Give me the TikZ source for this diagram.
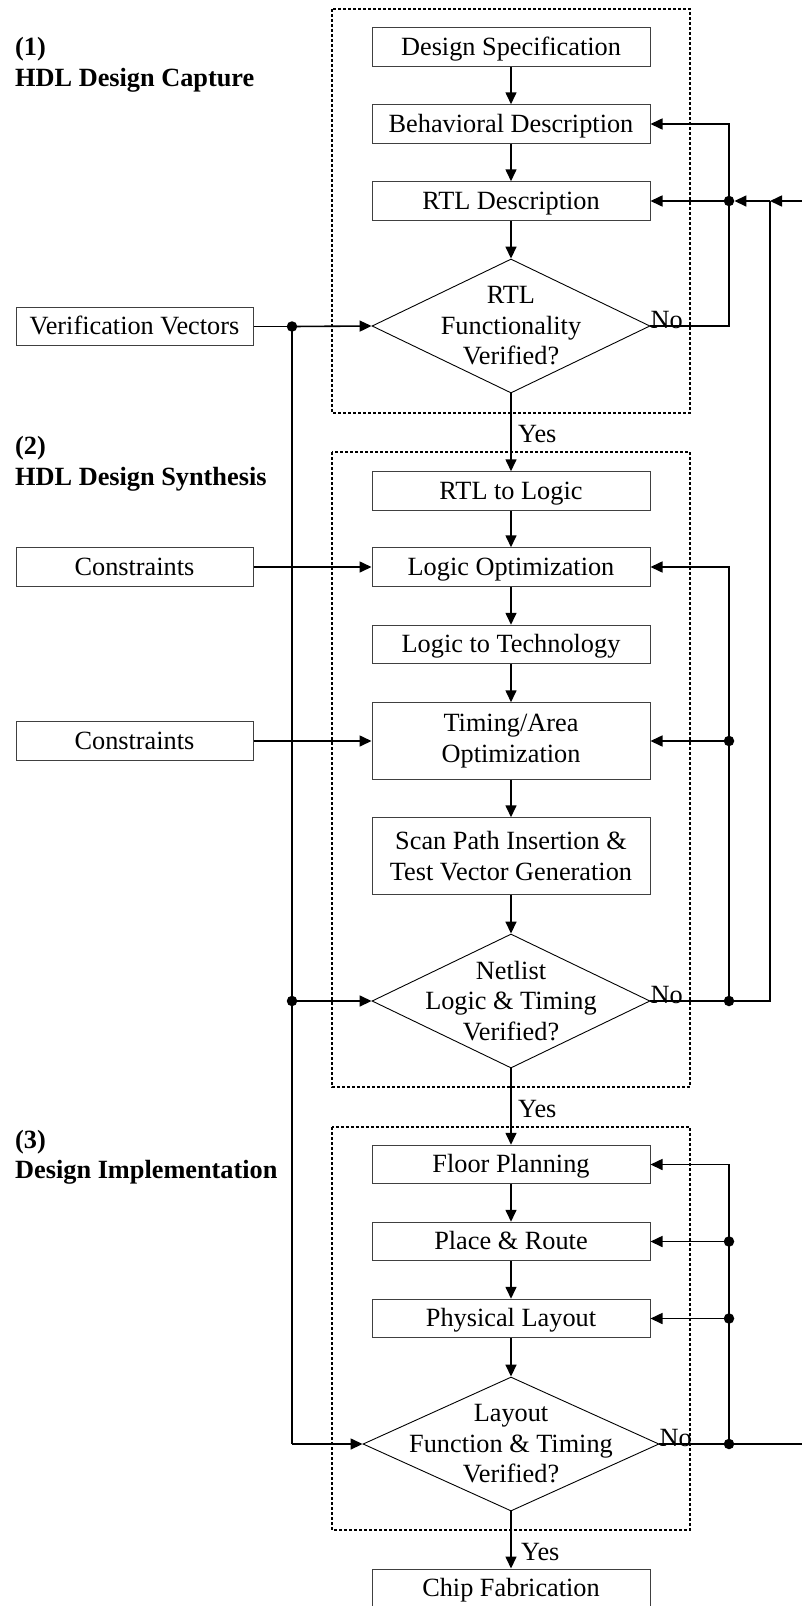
\documentclass[tikz,border=0pt]{standalone}
\usepackage{fontspec}
\setmainfont{Liberation Serif}
\usetikzlibrary{shapes.geometric,arrows.meta}

\begin{document}
\begin{tikzpicture}[
  x=1pt, y=-1pt,
  font=\fontsize{26.3}{30.5}\selectfont,
  stepbox/.style={rectangle, draw=black!75, line width=1pt, minimum width=278pt,
    minimum height=38.5pt, inner sep=0pt, align=center},
  onebox/.style={stepbox, text height=22pt, text depth=6pt},
  tallbox/.style={stepbox, minimum height=76.5pt},
  inbox/.style={onebox, minimum width=237pt},
  decision/.style={diamond, draw, line width=0.9pt, inner sep=0pt,
    minimum width=278pt, minimum height=134pt},
  decisionwide/.style={decision, minimum width=296pt},
  dectext/.style={align=center, inner sep=0pt},
  stage/.style={dash pattern=on 3pt off 2pt, line width=1.1pt},
  conn/.style={line width=1.6pt},
  flow/.style={conn, -{Triangle[length=12pt, width=11pt]}},
  joint/.style={circle, fill=black, inner sep=0pt, minimum size=10.5pt},
  tag/.style={inner sep=0pt, anchor=west},
  notag/.style={inner sep=0pt, anchor=south west},
  phase/.style={align=left, anchor=west, inner sep=0pt, font=\fontsize{26.3}{30.5}\selectfont\bfseries}
]
\useasboundingbox (0,0) rectangle (802,1606);

% stage frames
\draw[stage] (332,9) rectangle (690,413);
\draw[stage] (332,452) rectangle (690,1087);
\draw[stage] (332,1127) rectangle (690,1530);

% stage titles
\node[phase] (p1) at (15,65) {(1)\\HDL Design Capture};
\node[phase] (p2) at (15,464) {(2)\\HDL Design Synthesis};
\node[phase] (p3) at (15,1157.5) {(3)\\Design Implementation};

% main flow
\node[onebox] (spec)  at (511,47)    {Design Specification};
\node[onebox] (behav) at (511,124)   {Behavioral Description};
\node[onebox] (rtl)   at (511,201)   {RTL Description};
\node[decision] (d1)   at (511,326)   {};
\node[dectext] (d1t)   at (d1.center) {RTL\\Functionality\\Verified?};

\node[onebox] (r2l)   at (511,491)   {RTL to Logic};
\node[onebox] (lopt)  at (511,567)   {Logic Optimization};
\node[onebox] (l2t)   at (511,644.5) {Logic to Technology};
\node[tallbox] (tao)   at (511,741)   {Timing/Area\\Optimization};
\node[tallbox] (scan)  at (511,856)   {Scan Path Insertion \&\\Test Vector Generation};
\node[decision] (d2)   at (511,1001)  {};
\node[dectext] (d2t)   at (d2.center) {Netlist\\Logic \& Timing\\Verified?};

\node[onebox] (floor) at (511,1164.5) {Floor Planning};
\node[onebox] (pr)    at (511,1241.5) {Place \& Route};
\node[onebox] (phys)  at (511,1318.5) {Physical Layout};
\node[decisionwide] (d3) at (511,1444) {};
\node[dectext] (d3t)   at (d3.center) {Layout\\Function \& Timing\\Verified?};
\node[onebox] (chip)  at (511,1588.25) {Chip Fabrication};

% inputs on the left
\node[inbox] (vv)   at (134.5,326.5) {Verification Vectors};
\node[inbox] (con1) at (134.5,567)   {Constraints};
\node[inbox] (con2) at (134.5,741)   {Constraints};

% joints
\node[joint] (jv1) at (292,326.5) {};
\node[joint] (jv2) at (292,1001) {};
\coordinate (jv3) at (292,1444);

\node[joint] (ja1) at (729,201) {};
\coordinate (ca1) at (729,326);
\coordinate (ca0) at (729,124);
\coordinate (cb1) at (770,1001);
\coordinate (cb0) at (770,201);
\coordinate (edgeTop) at (802,201);

\node[joint] (jb1) at (729,1001) {};
\node[joint] (jb2) at (729,741) {};
\coordinate (cb2) at (729,567);

\node[joint] (jc1) at (729,1444) {};
\node[joint] (jc2) at (729,1318.5) {};
\node[joint] (jc3) at (729,1241.5) {};
\coordinate (cc4) at (729,1164.5);
\coordinate (edgeBot) at (802,1444);

% forward flow
\draw[flow] (spec) -- (behav);
\draw[flow] (behav) -- (rtl);
\draw[flow] (rtl) -- (d1);
\draw[flow] (d1.south) -- (r2l);
\draw[flow] (r2l) -- (lopt);
\draw[flow] (lopt) -- (l2t);
\draw[flow] (l2t) -- (tao);
\draw[flow] (tao) -- (scan);
\draw[flow] (scan) -- (d2);
\draw[flow] (d2.south) -- (floor);
\draw[flow] (floor) -- (pr);
\draw[flow] (pr) -- (phys);
\draw[flow] (phys) -- (d3);
\draw[flow] (d3.south) -- (chip);

\node[tag] (y1) at (518,434)    {Yes};
\node[tag] (y2) at (518,1109)   {Yes};
\node[tag] (y3) at (521,1551.5) {Yes};

% verification vectors and constraints
\draw[conn] (vv.east) -- (jv1.center);
\draw[flow] (jv1.center) -- (d1.west);
\draw[conn] (jv1.center) -- (jv3);
\draw[flow] (jv2.center) -- (d2.west);
\draw[flow] (jv3) -- (d3.west);
\draw[flow] (con1.east) -- (lopt.west);
\draw[flow] (con2.east) -- (tao.west);

% feedback of stage 1
\draw[flow] (d1.east) -- (ca1) -- (ca0) -- (behav.east);
\draw[flow] (ja1.center) -- (rtl.east);
\node[notag] (no1) at ([yshift=-3pt]d1.east) {No};

% feedback of stage 2
\draw[conn] (d2.east) -- (cb1) -- (cb0);
\draw[flow] (cb0) -- (ja1);
\draw[flow] (jb1.center) -- (cb2) -- (lopt.east);
\draw[flow] (jb2.center) -- (tao.east);
\node[notag] (no2) at ([yshift=-3pt]d2.east) {No};

% feedback of stage 3
\draw[conn] (d3.east) -- (edgeBot);
\draw[flow] (jc1.center) -- (cc4) -- (floor.east);
\draw[flow] (jc3.center) -- (pr.east);
\draw[flow] (jc2.center) -- (phys.east);
\draw[flow] (edgeTop) -- (cb0);
\node[notag] (no3) at ([yshift=-3pt]d3.east) {No};
\end{tikzpicture}
\end{document}
